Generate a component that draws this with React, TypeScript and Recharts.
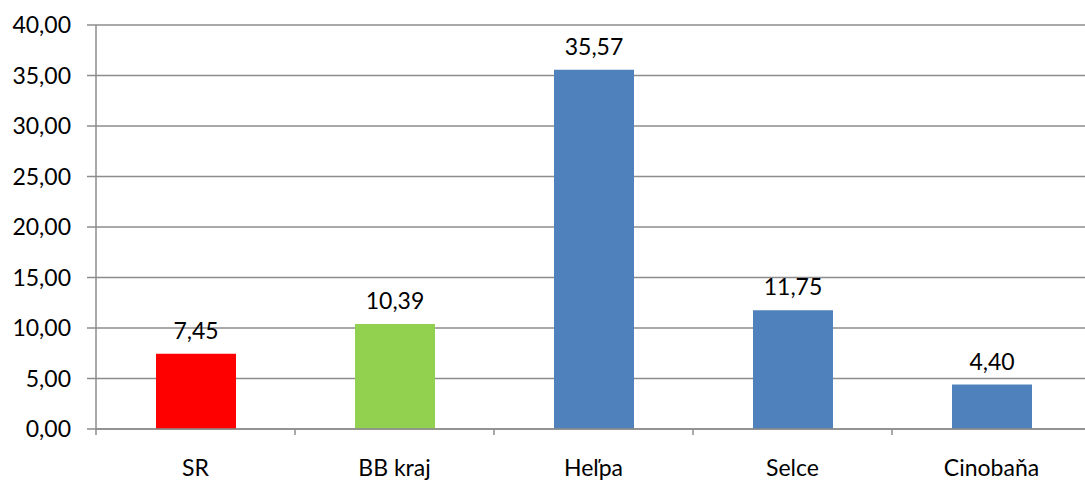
import { Bar, BarChart, CartesianGrid, Cell, LabelList, XAxis, YAxis } from "recharts";

const CATEGORIES = ["SR", "BB kraj", "Heľpa", "Selce", "Cinobaňa"];
const VALUES = [7.45, 10.39, 35.57, 11.75, 4.4];
const BAR_COLORS = ["#ff0000", "#92d050", "#4f81bd", "#4f81bd", "#4f81bd"];
const Y_TICKS = [0, 5, 10, 15, 20, 25, 30, 35, 40];

const fmt = (v: number) => v.toFixed(2).replace(".", ",");
const FONT = "Lato, 'Noto Sans', sans-serif";
const GRID = "#8c8c8c";

// category label plus a tick mark on the left edge of each band (Excel style)
function CategoryTick(props: any) {
  const { x, y, payload, index } = props;
  const half = payload?.offset ?? 0;
  const last = index === CATEGORIES.length - 1;
  return (
    <g>
      <line x1={x - half} x2={x - half} y1={y} y2={y + 6} stroke={GRID} strokeWidth={1.5} />
      {last && (
        <line x1={x + half} x2={x + half} y1={y} y2={y + 6} stroke={GRID} strokeWidth={1.5} />
      )}
      <text x={x} y={y + 47} textAnchor="middle" fill="#000" fontSize={23} fontFamily={FONT}>
        {payload.value}
      </text>
    </g>
  );
}

export default function App() {
  const data = CATEGORIES.map((name, i) => ({ name, value: VALUES[i] }));

  return (
    <div style={{ position: "absolute", left: 0, top: 0, fontFamily: FONT }}>
      <BarChart
        width={1091}
        height={485}
        data={data}
        margin={{ top: 25, right: 0, left: 0, bottom: 0 }}
      >
        <CartesianGrid vertical={false} stroke={GRID} strokeWidth={1.5} />
        <XAxis
          dataKey="name"
          tickLine={false}
          tickSize={0}
          tickMargin={0}
          axisLine={{ stroke: GRID, strokeWidth: 1.5 }}
          tick={<CategoryTick />}
          interval={0}
          height={56}
        />
        <YAxis
          domain={[0, 40]}
          ticks={Y_TICKS}
          tickFormatter={fmt}
          width={96}
          tickSize={9}
          tickMargin={16}
          axisLine={{ stroke: GRID, strokeWidth: 1.5 }}
          tickLine={{ stroke: GRID, strokeWidth: 1.5 }}
          tick={{ fill: "#000", fontSize: 23, fontFamily: FONT }}
        />
        <Bar dataKey="value" barSize={80} isAnimationActive={false}>
          {data.map((d, i) => (
            <Cell key={d.name} fill={BAR_COLORS[i]} />
          ))}
          <LabelList
            dataKey="value"
            position="top"
            offset={15}
            formatter={(v: number) => fmt(v)}
            style={{ fill: "#000", fontSize: 23, fontFamily: FONT }}
          />
        </Bar>
      </BarChart>
    </div>
  );
}
